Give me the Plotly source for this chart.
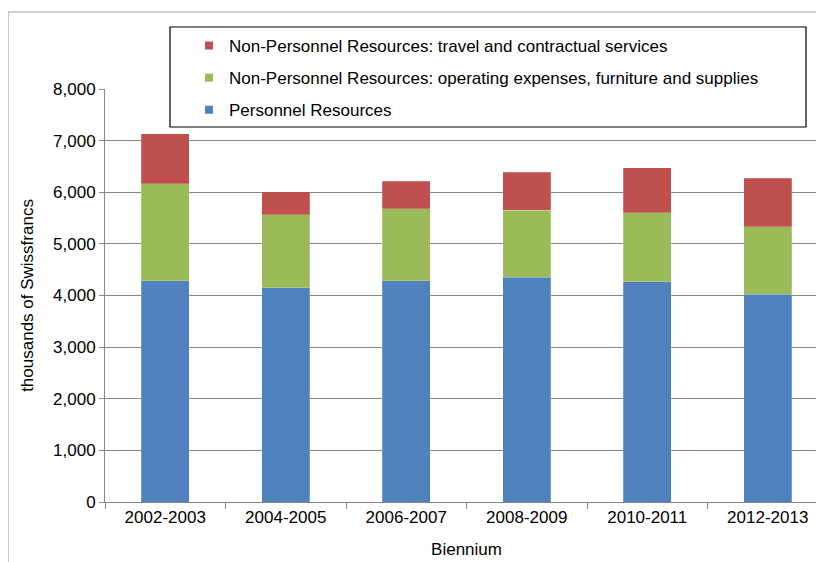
import plotly.graph_objects as go

# biennium categories (thousands of Swiss francs)
bienniums = ["2002-2003", "2004-2005", "2006-2007", "2008-2009", "2010-2011", "2012-2013"]
personnel = [4290, 4150, 4290, 4355, 4265, 4025]
operating = [1876, 1411, 1393, 1297, 1335, 1304]
travel = [964, 445, 530, 735, 876, 942]

names = [
    "Personnel Resources",
    "Non-Personnel Resources: operating expenses, furniture and supplies",
    "Non-Personnel Resources: travel and contractual services",
]
colors = {
    "personnel": "#4F81BD",
    "operating": "#9BBB59",
    "travel": "#C0504D",
}

FONT = "Liberation Sans, Arial, sans-serif"

# figure geometry in pixels (page body adds an 8px offset)
W, H = 824, 562
L, T, B, R = 97, 81, 68, 4
PW = W - L - R
PH = H - T - B


def px_x(x):
    return (x - L) / PW


def px_y(y):
    return 1 - (y - T) / PH


fig = go.Figure()

series = [
    (personnel, names[0], colors["personnel"]),
    (operating, names[1], colors["operating"]),
    (travel, names[2], colors["travel"]),
]
for vals, name, col in series:
    fig.add_trace(go.Bar(
        x=bienniums,
        y=vals,
        name=name,
        marker=dict(color=col, line=dict(color="rgba(255,255,255,0.35)", width=0.6)),
        width=0.4,
        showlegend=False,
    ))

# legend entries with small square swatches (top to bottom: travel, operating, personnel)
for i, (vals, name, col) in enumerate(reversed(series)):
    fig.add_trace(go.Scatter(
        x=[None], y=[None],
        mode="markers",
        name=name,
        legendgroup=f"g{i}",
        marker=dict(symbol="square", size=8, color=col),
    ))

# outer chart frame and legend box
shapes = [
    dict(type="rect", xref="paper", yref="paper",
         x0=px_x(0), x1=px_x(W + 30), y0=px_y(H + 30), y1=px_y(4),
         line=dict(color="#A0A0A0", width=1.2), fillcolor="rgba(0,0,0,0)", layer="below"),
    dict(type="rect", xref="paper", yref="paper",
         x0=px_x(162), x1=px_x(798), y0=px_y(119), y1=px_y(19),
         line=dict(color="#000000", width=1.2), fillcolor="#FFFFFF", layer="above"),
]

fig.update_layout(
    width=W,
    height=H,
    barmode="stack",
    bargap=0.6,
    plot_bgcolor="#FFFFFF",
    paper_bgcolor="#FFFFFF",
    margin=dict(l=L, r=R, t=T, b=B),
    font=dict(family=FONT, size=17, color="#000000"),
    shapes=shapes,
    showlegend=True,
    legend=dict(
        x=px_x(181), y=px_y(20), xanchor="left", yanchor="top",
        bgcolor="rgba(0,0,0,0)", borderwidth=0,
        traceorder="grouped", tracegroupgap=7,
        font=dict(family=FONT, size=17, color="#000000"),
        itemsizing="trace",
    ),
    xaxis=dict(
        type="category",
        range=[-0.5, 5.5],
        showline=True, linecolor="#868686", linewidth=1,
        ticks="outside", ticklen=6, tickcolor="#868686", tickson="boundaries",
        showgrid=False,
        tickfont=dict(family=FONT, size=17),
        title=dict(text="Biennium", font=dict(family=FONT, size=17), standoff=16),
    ),
    yaxis=dict(
        range=[0, 8000], dtick=1000, tickformat=",",
        showline=True, linecolor="#868686", linewidth=1,
        ticks="outside", ticklen=5, tickcolor="#868686",
        showgrid=True, gridcolor="#868686", gridwidth=1,
        zeroline=False,
        tickfont=dict(family=FONT, size=17),
        title=dict(text="thousands of Swissfrancs", font=dict(family=FONT, size=17), standoff=15),
    ),
)

fig.write_html("out.html")
